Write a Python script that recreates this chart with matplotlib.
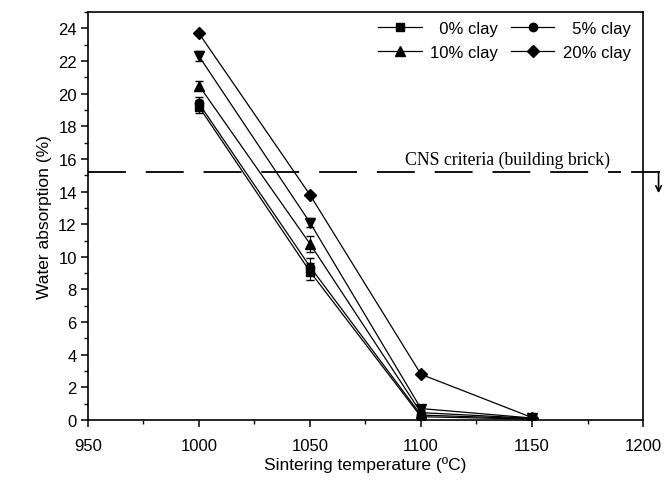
import numpy as np
import matplotlib
matplotlib.use("Agg")
import matplotlib.pyplot as plt
from matplotlib.lines import Line2D
from matplotlib.ticker import MultipleLocator

# sintering temperatures (deg C)
temps = [1000, 1050, 1100, 1150]

# water absorption (%) for each clay content
clay_0 = [19.2, 9.1, 0.2, 0.05]
clay_5 = [19.4, 9.4, 0.3, 0.08]
clay_10 = [20.5, 10.8, 0.45, 0.1]
clay_15 = [22.3, 12.1, 0.7, 0.12]
clay_20 = [23.7, 13.8, 2.8, 0.15]

# error bars
err_0 = [0.4, 0.5, 0.1, 0.05]
err_5 = [0.4, 0.5, 0.1, 0.05]
err_10 = [0.3, 0.5, 0.1, 0.05]
err_15 = [0.3, 0.3, 0.1, 0.05]
err_20 = [0.1, 0.1, 0.1, 0.05]

labels = ["  0% clay", "  5% clay", "10% clay", "15% clay", "20% clay"]
cns_limit = 15.2

plt.rcParams['font.family'] = ['Liberation Sans', 'DejaVu Sans']

fig = plt.figure(figsize=(6.66, 4.85), dpi=100)
ax = fig.add_axes([0.132, 0.132, 0.8335, 0.841])

series = [clay_0, clay_5, clay_10, clay_15, clay_20]
errs = [err_0, err_5, err_10, err_15, err_20]
markers = ['s', 'o', '^', 'v', 'D']
sizes = [6, 6, 7, 7, 6]

handles = []
for ys, e, m, ms, lab in zip(series, errs, markers, sizes, labels):
    ax.errorbar(temps, ys, yerr=e, color='black', lw=0.9, marker=m,
                markersize=ms, capsize=3, elinewidth=0.8)
    handles.append(Line2D([], [], color='black', lw=0.9, marker=m, markersize=ms))

# CNS criteria line with arrow beyond the frame
ax.plot([950, 1190], [cns_limit, cns_limit], color='black', lw=1.3,
        dashes=(21, 11), clip_on=False)
ax.plot([1195, 1207], [cns_limit, cns_limit], color='black', lw=1.3, clip_on=False)
ax.annotate('', xy=(1207, cns_limit - 1.3), xytext=(1207, cns_limit),
            arrowprops=dict(arrowstyle='->', lw=1.2, color='black',
                            shrinkA=0, shrinkB=0),
            annotation_clip=False)
ax.text(1139, 16.0, 'CNS criteria (building brick)', ha='center', va='center',
        fontsize=12.8, family=['Liberation Serif', 'DejaVu Serif'])

ax.set_xlim(950, 1200)
ax.set_ylim(0, 25)
ax.xaxis.set_major_locator(MultipleLocator(50))
ax.xaxis.set_minor_locator(MultipleLocator(25))
ax.yaxis.set_major_locator(MultipleLocator(2))
ax.yaxis.set_minor_locator(MultipleLocator(1))
ax.tick_params(which='major', direction='out', length=5, width=1.1, labelsize=12, pad=8)
ax.tick_params(which='minor', direction='out', length=3, width=1.0)
ax.tick_params(axis='y', which='major', pad=3)
for sp in ax.spines.values():
    sp.set_linewidth(1.2)

ax.set_xlabel('Sintering temperature (ºC)', fontsize=12.5, labelpad=2)
ax.set_ylabel('Water absorption (%)', fontsize=12.5, labelpad=4)

# legend: 0%, 5% on first row; 10%, 20% on second (15% not listed)
order = [0, 2, 1, 4]
ax.legend([handles[i] for i in order], [labels[i] for i in order], ncol=2,
          frameon=False, loc='upper right', bbox_to_anchor=(0.99, 0.995),
          borderaxespad=0, fontsize=12, handlelength=2.6, handletextpad=0.5,
          columnspacing=0.8, labelspacing=0.55)

fig.savefig('out.png', dpi=100)
